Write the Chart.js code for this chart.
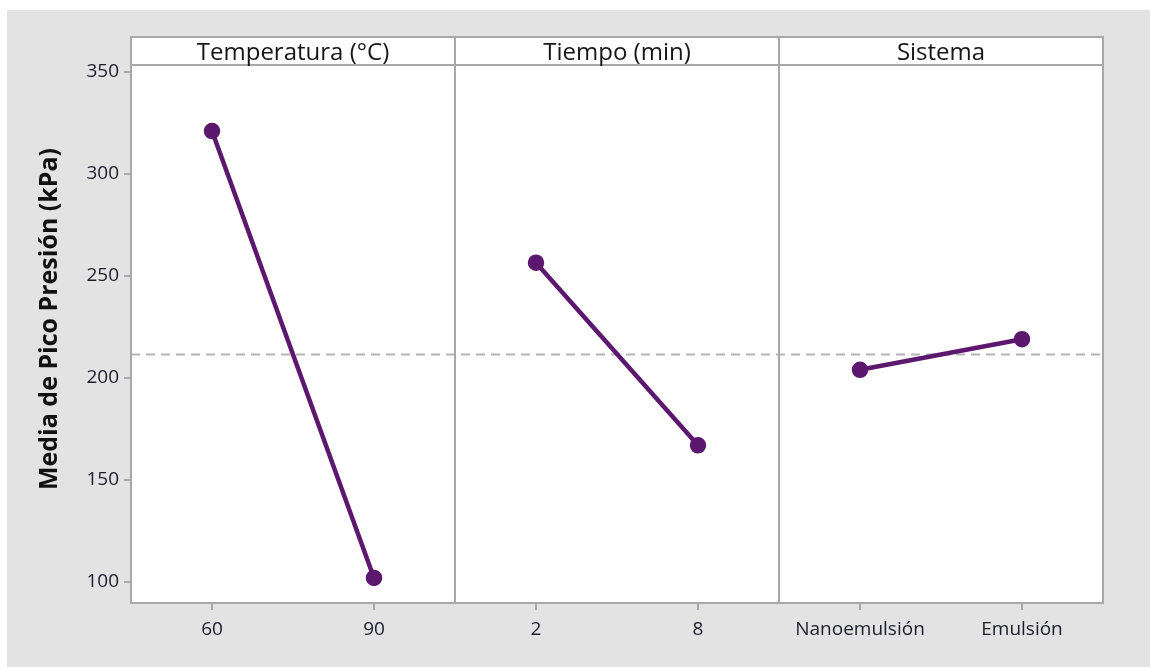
<!DOCTYPE html>
<html>
<head>
<meta charset="utf-8">
<script src="https://cdn.jsdelivr.net/npm/chart.js@4.4.1/dist/chart.umd.min.js"></script>
<style>
    body { margin: 0; background: #ffffff; }
    #wrap { width: 1150px; height: 667px; }
</style>
</head>
<body>
<div id="wrap"><canvas id="canvas" width="1150" height="667"></canvas></div>
<script>
// Efectos principales sobre el pico de presión
const factores = ["Temperatura (°C)", "Tiempo (min)", "Sistema"];
const niveles = [["60", "90"], ["2", "8"], ["Nanoemulsión", "Emulsión"]];
const medias = [[321, 102], [256.5, 167], [204, 219]];
const mediaGeneral = 211.5;
const yTicks = [100, 150, 200, 250, 300, 350];
const tituloY = "Media de Pico Presión (kPa)";

const morado = "#5c176e";
const gris = "#a8a8a8";
const fuente = "'Open Sans', 'Noto Sans', sans-serif";

// posiciones x: cada panel ocupa 2 unidades, niveles en 0.5 y 1.5
const posX = [];
const etiquetasX = [];
for (let i = 0; i < niveles.length; i++) {
    for (let j = 0; j < niveles[i].length; j++) {
        posX.push(i * 2 + 0.5 + j);
        etiquetasX.push(niveles[i][j]);
    }
}

const datasets = [];
for (let i = 0; i < medias.length; i++) {
    datasets.push({
        data: medias[i].map((v, j) => ({ x: i * 2 + 0.5 + j, y: v })),
        borderColor: morado,
        backgroundColor: morado,
        borderWidth: 4.5,
        pointRadius: 6,
        pointHoverRadius: 6,
        order: 1,
    });
}
// linea de referencia (media general)
datasets.push({
    data: [{ x: 0, y: mediaGeneral }, { x: factores.length * 2, y: mediaGeneral }],
    borderColor: "#b4b4b4",
    borderWidth: 2,
    borderDash: [9, 6],
    pointRadius: 0,
    order: 2,
});

// fondo gris, cabeceras, separadores de panel y titulo del eje y
const paneles = {
    id: "paneles",
    beforeDraw(chart) {
        const ctx = chart.ctx;
        ctx.save();
        ctx.fillStyle = "#e3e3e3";
        ctx.fillRect(7, 10, chart.width - 7, chart.height - 10);
        const a = chart.chartArea;
        ctx.fillStyle = "#ffffff";
        ctx.fillRect(a.left, a.top - 28, a.right - a.left, a.bottom - a.top + 28);
        ctx.restore();
    },
    afterDraw(chart) {
        const ctx = chart.ctx;
        const a = chart.chartArea;
        const x = chart.scales.x;
        const top = a.top - 28;
        ctx.save();
        ctx.strokeStyle = gris;
        ctx.lineWidth = 2;
        ctx.strokeRect(a.left, top, a.right - a.left, a.bottom - top);
        ctx.beginPath();
        ctx.moveTo(a.left, a.top);
        ctx.lineTo(a.right, a.top);
        for (let i = 1; i < factores.length; i++) {
            const px = Math.round(x.getPixelForValue(i * 2));
            ctx.moveTo(px, top);
            ctx.lineTo(px, a.bottom);
        }
        ctx.stroke();
        ctx.fillStyle = "#161616";
        ctx.font = "24px " + fuente;
        ctx.textAlign = "center";
        ctx.textBaseline = "middle";
        for (let i = 0; i < factores.length; i++) {
            const cx = x.getPixelForValue(i * 2 + 1);
            ctx.fillText(factores[i], cx, top + 16);
        }
        // titulo vertical
        ctx.fillStyle = "#111111";
        ctx.font = "bold 25px " + fuente;
        ctx.translate(50, 319);
        ctx.rotate(-Math.PI / 2);
        ctx.fillText(tituloY, 0, 0);
        ctx.restore();
    },
};

const config = {
    type: "line",
    data: { datasets: datasets },
    plugins: [paneles],
    options: {
        responsive: false,
        animation: false,
        layout: { padding: { left: 0, top: 65, right: 47, bottom: 0 } },
        plugins: { legend: { display: false }, tooltip: { enabled: false } },
        scales: {
            x: {
                type: "linear",
                min: 0,
                max: factores.length * 2,
                afterBuildTicks: (scale) => {
                    scale.ticks = posX.map((v) => ({ value: v }));
                },
                afterFit: (scale) => {
                    scale.height = 64;
                },
                ticks: {
                    callback: (v) => etiquetasX[posX.indexOf(v)],
                    font: { family: fuente, size: 19 },
                    color: "#1c1c2c",
                    padding: 8,
                    maxRotation: 0,
                    autoSkip: false,
                },
                grid: { drawOnChartArea: false, color: gris, tickLength: 7, lineWidth: 2 },
                border: { display: false },
            },
            y: {
                min: 89.7,
                max: 353.4,
                afterBuildTicks: (scale) => {
                    scale.ticks = yTicks.map((v) => ({ value: v }));
                },
                afterFit: (scale) => {
                    scale.width = 131;
                },
                ticks: {
                    font: { family: fuente, size: 19 },
                    color: "#1c1c2c",
                    padding: 5,
                },
                grid: { drawOnChartArea: false, color: gris, tickLength: 7, lineWidth: 2 },
                border: { display: false },
            },
        },
    },
};

const canvas = document.getElementById("canvas").getContext("2d");
const chart = new Chart(canvas, config);
</script>
</body>
</html>
